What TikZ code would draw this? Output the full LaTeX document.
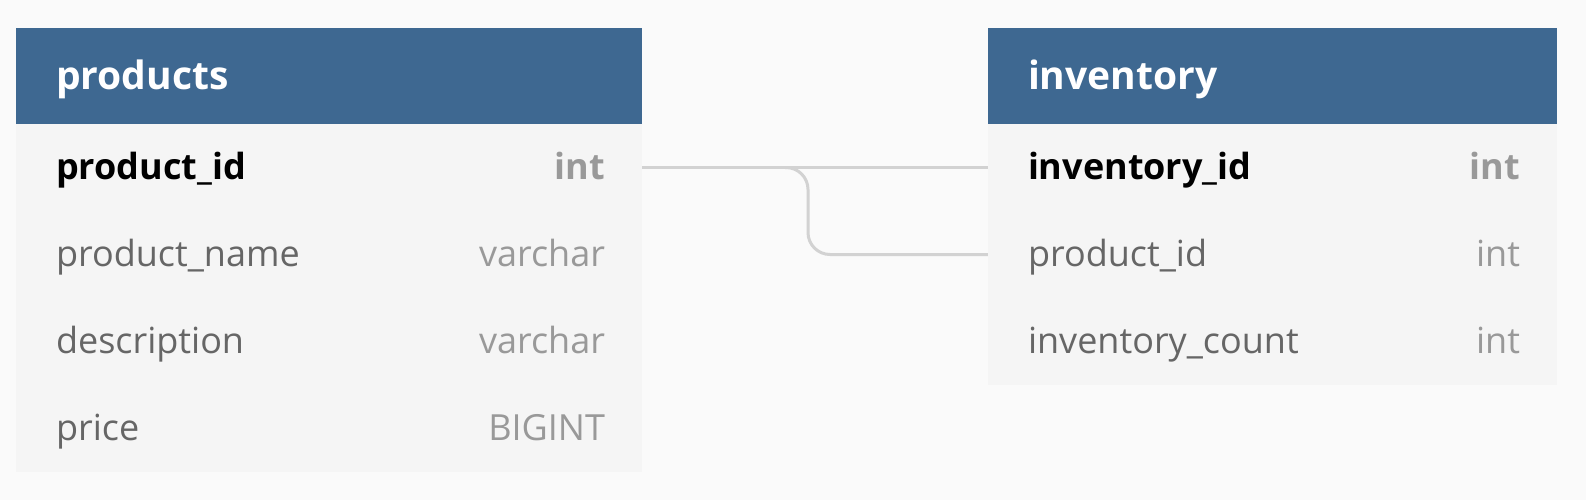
\documentclass[tikz,border=0pt]{standalone}
\usepackage{fontspec}
\setmainfont{Open Sans}
\definecolor{bgc}{HTML}{FAFAFA}
\definecolor{hdrc}{HTML}{3E6891}
\definecolor{rowc}{HTML}{F5F5F5}
\definecolor{linec}{HTML}{D2D2D2}
\definecolor{namec}{HTML}{666666}
\definecolor{typec}{HTML}{999999}
\tikzset{
  hdrbox/.style={fill=hdrc, draw=none, inner sep=0pt, minimum height=96pt},
  rowbox/.style={fill=rowc, draw=none, inner sep=0pt, minimum height=87pt},
  hdrtext/.style={anchor=base west, inner sep=0pt, text=white, font=\fontsize{39}{44}\selectfont\bfseries},
  pkname/.style={anchor=base west, inner sep=0pt, text=black, font=\fontsize{36}{40}\selectfont\bfseries},
  pktype/.style={anchor=base east, inner sep=0pt, text=typec, font=\fontsize{36}{40}\selectfont\bfseries},
  fname/.style={anchor=base west, inner sep=0pt, text=namec, font=\fontsize{36}{40}\selectfont},
  ftype/.style={anchor=base east, inner sep=0pt, text=typec, font=\fontsize{36}{40}\selectfont},
  conn/.style={draw=linec, line width=3pt}
}
\begin{document}
\begin{tikzpicture}[x=1pt,y=-1pt]
\fill[bgc] (0,0) rectangle (1586,500);
\useasboundingbox (0,0) rectangle (1586,500);
% products table
\node[hdrbox, minimum width=626pt] (ph) at (329,76) {};
\node[rowbox, minimum width=626pt] (p1) at (329,167.5) {};
\node[rowbox, minimum width=626pt] (p2) at (329,254.5) {};
\node[rowbox, minimum width=626pt] (p3) at (329,341.5) {};
\node[rowbox, minimum width=626pt] (p4) at (329,428.5) {};
\node[hdrtext] (pht) at ([xshift=40pt,yshift=-14pt]ph.west) {products};
\node[pkname] (p1n) at ([xshift=40pt,yshift=-12pt]p1.west) {product\_id};
\node[pktype] (p1t) at ([xshift=-37pt,yshift=-12pt]p1.east) {int};
\node[fname] (p2n) at ([xshift=40pt,yshift=-12pt]p2.west) {product\_name};
\node[ftype] (p2t) at ([xshift=-37pt,yshift=-12pt]p2.east) {varchar};
\node[fname] (p3n) at ([xshift=40pt,yshift=-12pt]p3.west) {description};
\node[ftype] (p3t) at ([xshift=-37pt,yshift=-12pt]p3.east) {varchar};
\node[fname] (p4n) at ([xshift=40pt,yshift=-12pt]p4.west) {price};
\node[ftype] (p4t) at ([xshift=-37pt,yshift=-12pt]p4.east) {BIGINT};
% inventory table
\node[hdrbox, minimum width=569pt] (ih) at (1272.5,76) {};
\node[rowbox, minimum width=569pt] (i1) at (1272.5,167.5) {};
\node[rowbox, minimum width=569pt] (i2) at (1272.5,254.5) {};
\node[rowbox, minimum width=569pt] (i3) at (1272.5,341.5) {};
\node[hdrtext] (iht) at ([xshift=40pt,yshift=-14pt]ih.west) {inventory};
\node[pkname] (i1n) at ([xshift=40pt,yshift=-12pt]i1.west) {inventory\_id};
\node[pktype] (i1t) at ([xshift=-37pt,yshift=-12pt]i1.east) {int};
\node[fname] (i2n) at ([xshift=40pt,yshift=-12pt]i2.west) {product\_id};
\node[ftype] (i2t) at ([xshift=-37pt,yshift=-12pt]i2.east) {int};
\node[fname] (i3n) at ([xshift=40pt,yshift=-12pt]i3.west) {inventory\_count};
\node[ftype] (i3t) at ([xshift=-37pt,yshift=-12pt]i3.east) {int};
% connectors
\coordinate (split) at (785,167.5);
\draw[conn] (p1.east) -- (i1.west);
\draw[conn, rounded corners=22pt] (split) -- (808,167.5) -- (808,254.5) -- (i2.west);
\end{tikzpicture}
\end{document}
